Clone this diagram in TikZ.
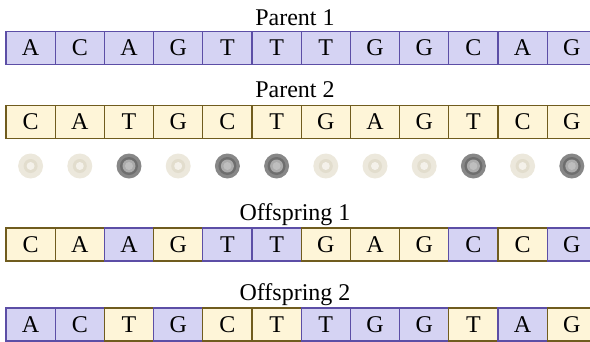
\documentclass[tikz,border=0pt]{standalone}
\usepackage{fontspec}
\setmainfont{Liberation Serif}
\begin{document}
\begin{tikzpicture}[x=1pt,y=-1pt,
  cellA/.style={draw=pbord, fill=pfill, line width=1.2pt, minimum width=49.2pt, minimum height=33pt, inner sep=0pt, text height=15.6pt, text depth=0pt, font=\fontsize{24}{26}\selectfont},
  cellB/.style={cellA, draw=ybord, fill=yfill},
  lab/.style={anchor=base, inner sep=0pt, font=\fontsize{24}{26}\selectfont}]
\definecolor{pfill}{RGB}{213,211,243}
\definecolor{pbord}{RGB}{92,78,166}
\definecolor{yfill}{RGB}{254,245,216}
\definecolor{ybord}{RGB}{112,92,30}
\definecolor{coinl}{RGB}{236,232,220}
\definecolor{coinli}{RGB}{226,221,205}
\definecolor{coind}{RGB}{135,135,135}
\definecolor{coindm}{RGB}{110,110,110}
\definecolor{coindi}{RGB}{190,190,190}
\useasboundingbox (0,0) rectangle (590,341);
% labels
\node[lab] (l1) at (295,25) {Parent 1};
\node[lab] (l2) at (295,97) {Parent 2};
\node[lab] (l3) at (295,220) {Offspring 1};
\node[lab] (l4) at (295,300) {Offspring 2};
% parents
\foreach \t [count=\i] in {A,C,A,G,T,T,T,G,G,C,A,G}{
  \node[cellA] (pa\i) at ({6+49.2*\i-24.6},47.75) {\t};}
\foreach \t [count=\i] in {C,A,T,G,C,T,G,A,G,T,C,G}{
  \node[cellB] (pb\i) at ({6+49.2*\i-24.6},122) {\t};}
% coins: L = light, D = dark
\foreach \c [count=\i] in {L,L,D,L,D,D,L,L,L,D,L,D}{
  \coordinate (c\i) at ({6+49.2*\i-24.6},166);
  \if\c L
    \fill[coinl] (c\i) circle (12.5pt);
    \fill[coinli] (c\i) circle (7pt);
    \fill[coinl!60!white] (c\i) circle (4pt);
  \else
    \fill[coind] (c\i) circle (12.5pt);
    \fill[coindm] (c\i) circle (9pt);
    \fill[coind!70!white] (c\i) circle (6.5pt);
    \fill[coindi] (c\i) circle (4pt);
  \fi
}
% offspring 1
\foreach \t/\s [count=\i] in {C/B,A/B,A/A,G/B,T/A,T/A,G/B,A/B,G/B,C/A,C/B,G/A}{
  \node[cell\s] (oa\i) at ({6+49.2*\i-24.6},244.5) {\t};}
% offspring 2
\foreach \t/\s [count=\i] in {A/A,C/A,T/B,G/A,C/B,T/B,T/A,G/A,G/A,T/B,A/A,G/B}{
  \node[cell\s] (ob\i) at ({6+49.2*\i-24.6},324.5) {\t};}
\end{tikzpicture}
\end{document}
